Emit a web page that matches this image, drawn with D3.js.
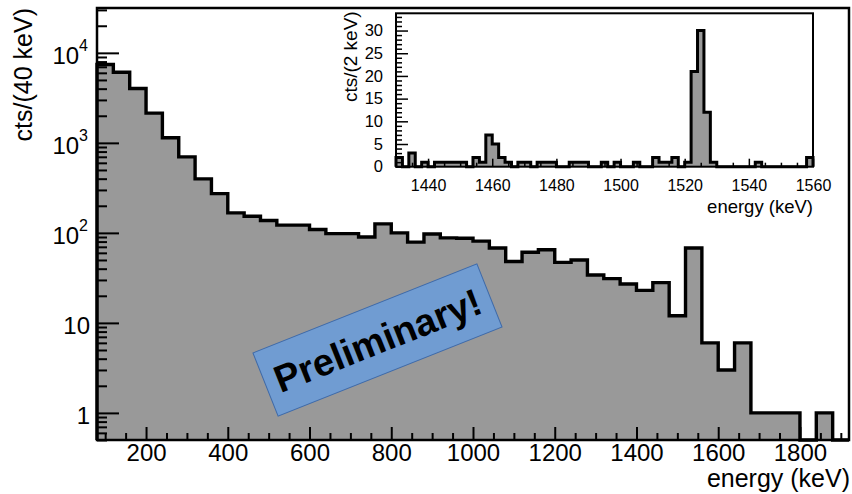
<!DOCTYPE html>
<html>
<head>
<meta charset="utf-8">
<script src="https://cdn.jsdelivr.net/npm/d3@7"></script>
<style>
  body { margin: 0; background: #fff; }
  svg text { font-family: "Liberation Sans", Arial, sans-serif; fill: #000; }
</style>
</head>
<body>
<svg id="chart" width="852" height="494"></svg>
<script>
// main spectrum, 40 keV bins (low edges)
const mainBins = [80, 120, 160, 200, 240, 280, 320, 360, 400, 440, 480, 520, 560, 600, 640, 680,
  720, 760, 800, 840, 880, 920, 960, 1000, 1040, 1080, 1120, 1160, 1200, 1240, 1280, 1320,
  1360, 1400, 1440, 1480, 1520, 1560, 1600, 1640, 1680, 1720, 1760, 1800, 1840, 1880];
const mainCounts = [7430, 6100, 4020, 2140, 1140, 698, 398, 273, 167, 153, 137, 122, 122, 109, 98, 98,
  90, 126, 100, 79, 97, 88, 87, 81, 68, 48, 61, 65, 47, 50, 34, 31,
  27, 23, 28, 12, 68, 6, 3, 6, 1, 1, 1, 0, 1, 0];
const mainBinWidth = 40;

// inset, 2 keV bins (low edges)
const insetBins = [1430, 1432, 1434, 1436, 1438, 1440, 1442, 1444, 1446, 1448, 1450, 1452, 1454,
  1456, 1458, 1460, 1462, 1464, 1466, 1468, 1470, 1472, 1474, 1476, 1478, 1480, 1482, 1484,
  1486, 1488, 1490, 1492, 1494, 1496, 1498, 1500, 1502, 1504, 1506, 1508, 1510, 1512, 1514,
  1516, 1518, 1520, 1522, 1524, 1526, 1528, 1530, 1532, 1534, 1536, 1538, 1540, 1542, 1544,
  1546, 1548, 1550, 1552, 1554, 1556, 1558];
const insetCounts = [2, 0, 3, 0, 1, 0, 1, 1, 1, 1, 1, 0, 2,
  1, 7, 5, 2, 1, 0, 1, 1, 0, 1, 1, 1, 0, 0, 1,
  1, 1, 0, 0, 1, 0, 1, 0, 0, 1, 0, 0, 2, 1, 1,
  2, 0, 1, 21, 30, 12, 1, 0, 0, 0, 0, 0, 0, 1, 0,
  0, 0, 0, 0, 0, 0, 2];
const insetBinWidth = 2;

// tick labels
const mainXTicks = [200, 400, 600, 800, 1000, 1200, 1400, 1600, 1800];
const mainYTicks = [1, 10, 100, 1000, 10000];
const mainYLabels = [["1", ""], ["10", ""], ["10", "2"], ["10", "3"], ["10", "4"]];
const insetXTicks = [1440, 1460, 1480, 1500, 1520, 1540, 1560];
const insetYTicks = [0, 5, 10, 15, 20, 25, 30];

const svg = d3.select("#chart");
const grey = "#999999";

// ---------- main plot ----------
const frame = { left: 97, right: 849, top: 8, bottom: 440 };
const x = d3.scaleLinear().domain([80, 1920]).range([frame.left, frame.right]);
const y = d3.scaleLog().domain([0.5, 31500]).range([frame.bottom, frame.top]);

function stepPoints(bins, counts, w, xs, ys, floor) {
  const pts = [[xs(bins[0]), ys(floor)]];
  bins.forEach((b, i) => {
    const v = Math.max(counts[i], floor);
    pts.push([xs(b), ys(v)]);
    pts.push([xs(b + w), ys(v)]);
  });
  pts.push([xs(bins[bins.length - 1] + w), ys(floor)]);
  return pts;
}

const mainPts = stepPoints(mainBins, mainCounts, mainBinWidth, x, y, 0.5);
svg.append("path")
  .attr("d", d3.area().x(d => d[0]).y0(frame.bottom).y1(d => d[1])(mainPts))
  .attr("fill", grey);
svg.append("path")
  .attr("d", d3.line()(mainPts))
  .attr("fill", "none").attr("stroke", "#000").attr("stroke-width", 3.4);

// x axis (ticks pointing inward)
const xMinor = d3.range(100, 1901, 50).filter(v => v % 200 !== 0);
svg.append("g").attr("transform", `translate(0,${frame.bottom})`)
  .call(d3.axisBottom(x).tickValues(xMinor).tickSize(-7).tickFormat(""))
  .call(g => g.select(".domain").remove())
  .call(g => g.selectAll("line").attr("stroke-width", 2));
svg.append("g").attr("transform", `translate(0,${frame.bottom})`)
  .call(d3.axisBottom(x).tickValues(mainXTicks).tickSize(-13).tickPadding(4).tickFormat(d3.format("d")))
  .call(g => g.select(".domain").remove())
  .call(g => g.selectAll("line").attr("stroke-width", 2))
  .call(g => g.selectAll("text").attr("font-size", 24).attr("fill", "#000"));

// y axis (log)
const yMinor = [];
[0.1, 1, 10, 100, 1000, 10000].forEach(dec => {
  for (let k = 2; k <= 9; k++) {
    const v = dec * k;
    if (v >= 0.5 && v <= 31500) yMinor.push(v);
  }
});
svg.append("g").attr("transform", `translate(${frame.left},0)`)
  .call(d3.axisLeft(y).tickValues(yMinor).tickSize(-10).tickFormat(""))
  .call(g => g.select(".domain").remove())
  .call(g => g.selectAll("line").attr("stroke-width", 2));
const yAx = svg.append("g").attr("transform", `translate(${frame.left},0)`)
  .call(d3.axisLeft(y).tickValues(mainYTicks).tickSize(-22).tickPadding(7).tickFormat(""))
  .call(g => g.select(".domain").remove())
  .call(g => g.selectAll("line").attr("stroke-width", 2));
yAx.selectAll(".tick text")
  .attr("font-size", 24).attr("fill", "#000").attr("dy", "0.45em")
  .each(function (d, i) {
    const t = d3.select(this);
    const lab = mainYLabels[i];
    if (lab[1]) t.attr("x", -9);
    t.append("tspan").text(lab[0]);
    if (lab[1]) {
      t.append("tspan").attr("font-size", 16).attr("dy", "-0.8em").text(lab[1]);
    }
  });

// frame
svg.append("rect")
  .attr("x", frame.left).attr("y", frame.top)
  .attr("width", frame.right - frame.left).attr("height", frame.bottom - frame.top)
  .attr("fill", "none").attr("stroke", "#000").attr("stroke-width", 2.5);

// axis titles
svg.append("text")
  .attr("transform", `translate(32,${frame.top}) rotate(-90)`)
  .attr("text-anchor", "end").attr("font-size", 25)
  .text("cts/(40 keV)");
svg.append("text")
  .attr("x", 850).attr("y", 487)
  .attr("text-anchor", "end").attr("font-size", 25)
  .text("energy (keV)");

// "Preliminary!" stamp
const stamp = svg.append("g").attr("transform", "translate(377.5,340) rotate(-21.7)");
stamp.append("rect")
  .attr("x", -120.5).attr("y", -34).attr("width", 241).attr("height", 68)
  .attr("fill", "#709cd2").attr("stroke", "#3f6aa8").attr("stroke-width", 1);
stamp.append("text")
  .attr("text-anchor", "middle").attr("dy", "0.36em")
  .attr("font-size", 38).attr("font-weight", "bold")
  .text("Preliminary!");

// ---------- inset ----------
const inset = { left: 396, right: 813, top: 13.3, bottom: 166.7 };
const ix = d3.scaleLinear().domain([1430, 1560]).range([inset.left, inset.right]);
const iy = d3.scaleLinear().domain([0, 33.8]).range([inset.bottom, inset.top]);

const insetPts = stepPoints(insetBins, insetCounts, insetBinWidth, ix, iy, 0);
svg.append("path")
  .attr("d", d3.area().x(d => d[0]).y0(inset.bottom).y1(d => d[1])(insetPts))
  .attr("fill", grey);
svg.append("path")
  .attr("d", d3.line()(insetPts))
  .attr("fill", "none").attr("stroke", "#000").attr("stroke-width", 3);

const ixMinor = d3.range(1435, 1560, 5).filter(v => v % 20 !== 0);
svg.append("g").attr("transform", `translate(0,${inset.bottom})`)
  .call(d3.axisBottom(ix).tickValues(ixMinor).tickSize(-4).tickFormat(""))
  .call(g => g.select(".domain").remove())
  .call(g => g.selectAll("line").attr("stroke-width", 1.5));
svg.append("g").attr("transform", `translate(0,${inset.bottom})`)
  .call(d3.axisBottom(ix).tickValues(insetXTicks).tickSize(-8).tickPadding(13).tickFormat(d3.format("d")))
  .call(g => g.select(".domain").remove())
  .call(g => g.selectAll("line").attr("stroke-width", 1.5))
  .call(g => g.selectAll("text").attr("font-size", 16).attr("fill", "#000"));

const iyMinor = d3.range(1, 34, 1).filter(v => v % 5 !== 0);
svg.append("g").attr("transform", `translate(${inset.left},0)`)
  .call(d3.axisLeft(iy).tickValues(iyMinor).tickSize(-6).tickFormat(""))
  .call(g => g.select(".domain").remove())
  .call(g => g.selectAll("line").attr("stroke-width", 1.5));
svg.append("g").attr("transform", `translate(${inset.left},0)`)
  .call(d3.axisLeft(iy).tickValues(insetYTicks).tickSize(-12).tickPadding(13).tickFormat(d3.format("d")))
  .call(g => g.select(".domain").remove())
  .call(g => g.selectAll("line").attr("stroke-width", 1.5))
  .call(g => g.selectAll("text").attr("font-size", 16.5).attr("fill", "#000"));

svg.append("rect")
  .attr("x", inset.left).attr("y", inset.top)
  .attr("width", inset.right - inset.left).attr("height", inset.bottom - inset.top)
  .attr("fill", "none").attr("stroke", "#000").attr("stroke-width", 2);

svg.append("text")
  .attr("transform", `translate(357,${inset.top - 2}) rotate(-90)`)
  .attr("text-anchor", "end").attr("font-size", 19)
  .text("cts/(2 keV)");
svg.append("text")
  .attr("x", inset.right).attr("y", 213)
  .attr("text-anchor", "end").attr("font-size", 18.5)
  .text("energy (keV)");
</script>
</body>
</html>
